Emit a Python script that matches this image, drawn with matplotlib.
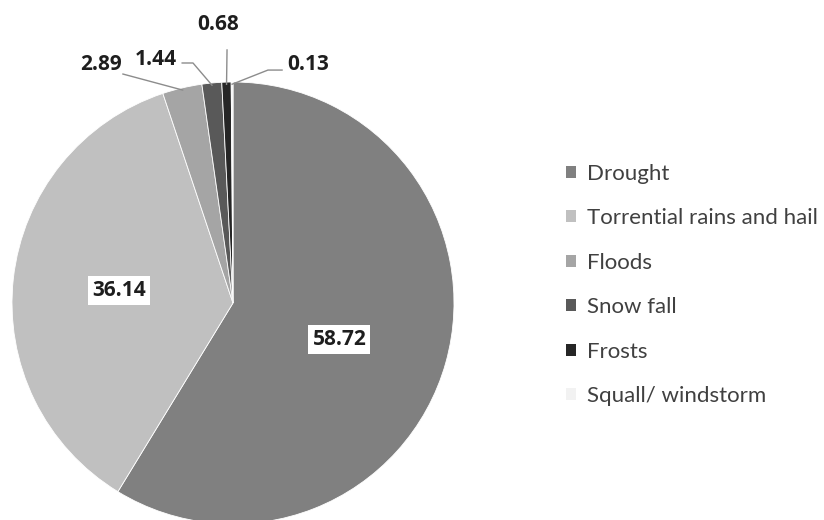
import matplotlib.pyplot as plt
from matplotlib.patches import Patch
import numpy as np

categories = ['Drought', 'Torrential rains and hail', 'Floods', 'Snow fall', 'Frosts', 'Squall/ windstorm']
values = [58.72, 36.14, 2.89, 1.44, 0.68, 0.13]
colors = ['#808080', '#c0c0c0', '#a5a5a5', '#595959', '#262626', '#f2f2f2']

# label layout for the small slices: text position, alignment, knee point, line end
outside = {
    2: dict(text=(-0.503, 1.077), ha='right', knee=None, end=(-0.498, 1.036)),
    3: dict(text=(-0.253, 1.102), ha='right', knee=(-0.181, 1.086), end=(-0.230, 1.086)),
    4: dict(text=(-0.068, 1.262), ha='center', knee=None, end=(-0.027, 1.145)),
    5: dict(text=(0.244, 1.081), ha='left', knee=(0.158, 1.054), end=(0.222, 1.054)),
}

plt.rcParams['font.family'] = ['Lato', 'DejaVu Sans']
num_font = ['Open Sans', 'DejaVu Sans']

fig = plt.figure(figsize=(8.24, 5.2), dpi=100)
W, H = 824, 520
cx, cy, r = 233, 303, 221
ax = fig.add_axes([(cx - r) / W, (H - cy - r) / H, 2 * r / W, 2 * r / H])

wedges, _ = ax.pie(values, colors=colors, startangle=90, counterclock=False,
                   radius=1.0, wedgeprops=dict(edgecolor='white', linewidth=0.6))
ax.set_xlim(-1, 1)
ax.set_ylim(-1, 1)
ax.set_aspect('equal')
ax.axis('off')

for i, (w, v) in enumerate(zip(wedges, values)):
    mid = np.deg2rad((w.theta1 + w.theta2) / 2)
    if i < 2:
        d = 0.5 if i == 0 else 0.51
        ax.text(d * np.cos(mid) - (0.0 if i == 0 else 0.01), d * np.sin(mid) - (0.03 if i == 0 else 0.0), '%.2f' % v,
                ha='center', va='center', fontsize=15, fontweight='bold', family=num_font,
                color='#1e1e1e', bbox=dict(facecolor='white', edgecolor='none', pad=3))
    else:
        o = outside[i]
        ax_pt = (0.99 * np.cos(mid), 0.99 * np.sin(mid))
        pts = [ax_pt]
        if o['knee'] is not None:
            pts.append(o['knee'])
        pts.append(o['end'])
        xs, ys = zip(*pts)
        ax.plot(xs, ys, color='#8c8c8c', lw=1, clip_on=False)
        ax.text(o['text'][0], o['text'][1], '%.2f' % v, ha=o['ha'], va='center',
                fontsize=15, fontweight='bold', family=num_font, color='#1e1e1e', clip_on=False)

handles = [Patch(facecolor=c, edgecolor='none') for c in colors]
fig.legend(handles, categories, loc='center left', bbox_to_anchor=(566 / W, 1 - 285 / H),
           frameon=False, fontsize=16, labelspacing=1.1, handlelength=0.45,
           handleheight=0.45, handletextpad=0.5, borderpad=0, borderaxespad=0,
           labelcolor='#404040')

fig.savefig('out.png', dpi=100)
